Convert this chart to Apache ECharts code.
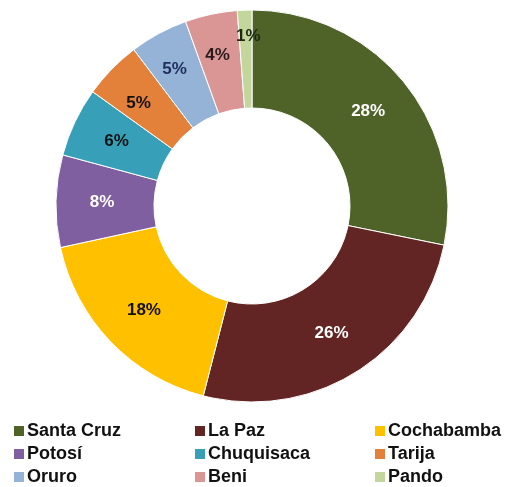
<!DOCTYPE html>
<html>
<head>
<meta charset="utf-8">
<script src="https://cdn.jsdelivr.net/npm/echarts@6/dist/echarts.min.js"></script>
<style>
  html, body { margin: 0; padding: 0; background: #fff; }
  #chart { width: 511px; height: 487px; }
</style>
</head>
<body>
<div id="chart"></div>
<script>
var names = ['Santa Cruz', 'La Paz', 'Cochabamba', 'Potosí', 'Chuquisaca', 'Tarija', 'Oruro', 'Beni', 'Pando']
var shares = [28.2, 25.8, 17.6, 7.6, 5.7, 4.8, 4.8, 4.3, 1.2]
var colors = ['#4f6228', '#632523', '#ffc000', '#7f5fa0', '#37a0b8', '#e3803a', '#95b3d7', '#d99694', '#c3d69b']
var labelColors = ['#fff', '#fff', '#111', '#fff', '#111', '#111', '#1f3060', '#2a1a1a', '#1e2a10']
// small slices carry their label a bit further out
var labelOffsets = [[0, 0], [0, 0], [0, 0], [0, 0], [0, 0], [-6, 2], [-6, -5], [-3, -4], [2, -20]]

var font = 'Liberation Sans, Arial, sans-serif'

var seriesData = []
for (var i = 0; i < names.length; i++) {
  seriesData.push({
    name: names[i],
    value: shares[i],
    itemStyle: { color: colors[i] },
    label: { color: labelColors[i], offset: labelOffsets[i] }
  })
}

// legend: three columns, filled row by row
var colLefts = [12, 193, 373]
var legends = colLefts.map(function (x, k) {
  return {
    data: [names[k], names[k + 3], names[k + 6]],
    left: x,
    top: 422,
    height: 80,
    padding: 0,
    orient: 'vertical',
    icon: 'rect',
    itemWidth: 12,
    itemHeight: 12,
    itemGap: 5,
    selectedMode: false,
    textStyle: {
      fontFamily: font,
      fontWeight: 'bold',
      fontSize: 18,
      lineHeight: 18,
      color: '#111',
      padding: [0, 0, 0, -3]
    }
  }
})

var chart = echarts.init(document.getElementById('chart'))
chart.setOption({
  animation: false,
  legend: legends,
  series: [{
    type: 'pie',
    center: [252, 206],
    radius: [98, 196],
    startAngle: 90,
    clockwise: true,
    avoidLabelOverlap: false,
    itemStyle: { borderColor: '#fff', borderWidth: 1 },
    label: {
      show: true,
      position: 'inside',
      fontFamily: font,
      fontWeight: 'bold',
      fontSize: 17,
      formatter: function (p) { return Math.round(p.value) + '%' }
    },
    labelLine: { show: false },
    emphasis: { disabled: true },
    data: seriesData
  }]
})
</script>
</body>
</html>
